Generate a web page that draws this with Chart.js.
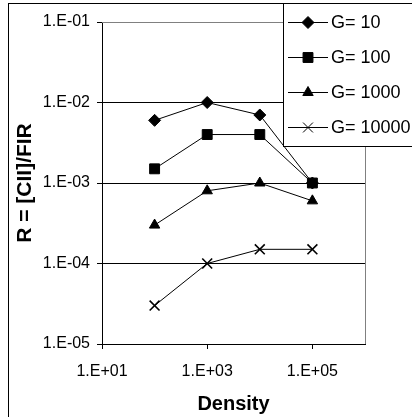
<!DOCTYPE html>
<html>
<head>
<meta charset="utf-8">
<script src="https://cdn.jsdelivr.net/npm/chart.js@4/dist/chart.umd.min.js"></script>
<style>
  html, body { margin: 0; padding: 0; background: #fff; }
  #wrap { width: 412px; height: 417px; }
</style>
</head>
<body>
<div id="wrap"><canvas id="canvas" width="412" height="417"></canvas></div>
<script>
// Data
const density = [100, 1000, 10000, 100000];
const seriesNames = ['G= 10', 'G= 100', 'G= 1000', 'G= 10000'];
const g10 = [6e-3, 1e-2, 7e-3, 1e-3];
const g100 = [1.5e-3, 4e-3, 4e-3, 1e-3];
const g1000 = [3e-4, 8e-4, 1e-3, 6e-4];
const g10000 = [3e-5, 1e-4, 1.5e-4, 1.5e-4];
const xTicks = [10, 1000, 100000];
const yTicks = [1e-5, 1e-4, 1e-3, 1e-2, 1e-1];

const FONT = 'Arial, "Liberation Sans", sans-serif';

// "1.E-03" style labels like Excel
function expLabel(v) {
    const e = Math.round(Math.log10(v));
    return '1.E' + (e < 0 ? '-' : '+') + String(Math.abs(e)).padStart(2, '0');
}

function points(ys) {
    return density.map((d, i) => ({ x: d, y: ys[i] }));
}

const markers = [
    { style: 'rectRot', radius: 6, width: 1 },
    { style: 'rect', radius: 7, width: 1 },
    { style: 'triangle', radius: 6, width: 1 },
    { style: 'crossRot', radius: 7, width: 1.6 }
];

const datasets = [g10, g100, g1000, g10000].map((ys, i) => ({
    label: seriesNames[i],
    data: points(ys),
    showLine: true,
    borderColor: '#000',
    borderWidth: 1,
    backgroundColor: '#000',
    pointStyle: markers[i].style,
    pointRadius: markers[i].radius,
    pointBorderWidth: markers[i].width,
    pointBorderColor: '#000',
    pointBackgroundColor: '#000'
}));

// Frame of the chart, gray plot border and the Excel-like legend box
const framePlugin = {
    id: 'frame',
    afterDraw(chart) {
        const ctx = chart.ctx;
        const a = chart.chartArea;
        ctx.save();
        // gray plot border (top and right)
        ctx.strokeStyle = '#808080';
        ctx.lineWidth = 1;
        ctx.beginPath();
        ctx.moveTo(a.left, Math.round(a.top) + 0.5);
        ctx.lineTo(Math.round(a.right) + 0.5, Math.round(a.top) + 0.5);
        ctx.lineTo(Math.round(a.right) + 0.5, a.bottom);
        ctx.stroke();

        // outer border
        ctx.strokeStyle = '#000';
        ctx.strokeRect(8.5, 3.5, 600, 600);

        // legend box
        const lx = 283, ly = 3, lh = 143;
        ctx.fillStyle = '#fff';
        ctx.fillRect(lx, ly, 200, lh);
        ctx.strokeRect(lx + 0.5, ly + 0.5, 200, lh);

        ctx.font = '18px ' + FONT;
        ctx.textBaseline = 'middle';
        ctx.textAlign = 'left';
        chart.data.datasets.forEach((ds, i) => {
            const y = 22 + i * 35;
            ctx.strokeStyle = '#000';
            ctx.fillStyle = '#000';
            ctx.lineWidth = 1;
            ctx.beginPath();
            ctx.moveTo(288, y + 0.5);
            ctx.lineTo(328, y + 0.5);
            ctx.stroke();
            Chart.helpers.drawPoint(ctx, {
                pointStyle: ds.pointStyle,
                radius: ds.pointRadius,
                rotation: 0,
                borderWidth: ds.pointBorderWidth
            }, 308, y + 0.5);
            ctx.fillText(ds.label, 331, y + 1);
        });
        ctx.restore();
    }
};

const config = {
    type: 'scatter',
    data: { datasets: datasets },
    options: {
        responsive: false,
        animation: false,
        layout: { padding: { top: 22, right: 47, left: 0, bottom: 0 } },
        plugins: {
            legend: { display: false },
            tooltip: { enabled: false }
        },
        scales: {
            x: {
                type: 'logarithmic',
                min: 10,
                max: 1e6,
                afterBuildTicks(scale) {
                    scale.ticks = xTicks.map(v => ({ value: v }));
                },
                afterFit(scale) { scale.height = 73; },
                border: { color: '#000', width: 1 },
                grid: {
                    drawOnChartArea: false,
                    tickLength: 5,
                    color: '#000'
                },
                ticks: {
                    autoSkip: false,
                    maxRotation: 0,
                    padding: 13,
                    color: '#000',
                    font: { family: FONT, size: 16 },
                    callback: v => expLabel(v)
                },
                title: {
                    display: true,
                    text: 'Density',
                    color: '#000',
                    font: { family: FONT, size: 20, weight: 'bold' },
                    padding: { top: 0, bottom: 1 }
                }
            },
            y: {
                type: 'logarithmic',
                min: 1e-5,
                max: 1e-1,
                afterBuildTicks(scale) {
                    scale.ticks = yTicks.map(v => ({ value: v }));
                },
                afterFit(scale) { scale.width = 102; },
                border: { color: '#000', width: 1 },
                grid: {
                    tickLength: 5,
                    color: ctx => (ctx.tick && ctx.tick.value === 0.1 ? '#808080' : '#000'),
                    tickColor: '#000'
                },
                ticks: {
                    autoSkip: false,
                    padding: 7,
                    color: '#000',
                    font: { family: FONT, size: 16 },
                    callback: v => expLabel(v)
                },
                title: {
                    display: true,
                    text: 'R = [CII]/FIR',
                    color: '#000',
                    font: { family: FONT, size: 21, weight: 'bold' },
                    padding: { top: 13, bottom: 0 }
                }
            }
        }
    },
    plugins: [framePlugin]
};

let myChart;

function init() {
    myChart = new Chart('canvas', config);
}

init();
</script>
</body>
</html>
